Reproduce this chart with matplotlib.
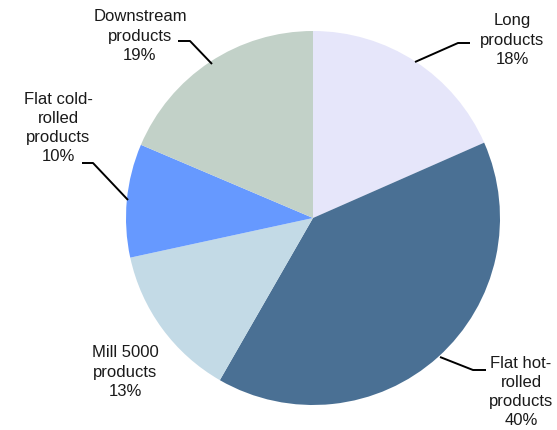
import matplotlib
matplotlib.use("Agg")
import matplotlib.pyplot as plt

categories = ["Long\nproducts", "Flat hot-\nrolled\nproducts", "Mill 5000\nproducts",
              "Flat cold-\nrolled\nproducts", "Downstream\nproducts"]
values = [18.4, 39.9, 13.3, 9.8, 18.6]
colors = ["#E6E6FA", "#4A7094", "#C3DAE6", "#6699FF", "#C2D1C8"]

W, H = 557, 430
fig = plt.figure(figsize=(W / 100, H / 100), dpi=100)
ax = fig.add_axes([0, 0, 1, 1])
plt.rcParams['font.family'] = ['Liberation Sans', 'DejaVu Sans']

def Y(y):
    return H - y

cx, cy, r = 313, 218, 187
ax.pie(values, startangle=90, counterclock=False, colors=colors,
       center=(cx, Y(cy)), radius=r, wedgeprops=dict(linewidth=0))
ax.set_xlim(0, W)
ax.set_ylim(0, H)
ax.set_aspect('equal')
ax.axis('off')

# label positions (pixel coords) and leader lines
label_pos = [(512, 40), (521, 392), (125, 372), (58, 128), (140, 36)]
leaders = [
    [(470, 43), (458, 43), (415, 62)],
    [(486, 370), (473, 370), (440, 357)],
    None,
    [(82, 163), (93, 163), (128, 200)],
    [(178, 41), (190, 41), (212, 64)],
]
for cat, v, (lx, ly), ld in zip(categories, values, label_pos, leaders):
    ax.text(lx, Y(ly), f"{cat}\n{round(v)}%", ha='center', va='center', fontsize=12,
            color='#1a1a1a', linespacing=1.34,
            family=['Liberation Sans', 'DejaVu Sans'])
    if ld:
        xs = [p[0] for p in ld]
        ys = [Y(p[1]) for p in ld]
        ax.plot(xs, ys, color='black', lw=1.4, solid_capstyle='butt')

fig.savefig("out.png", dpi=100)
